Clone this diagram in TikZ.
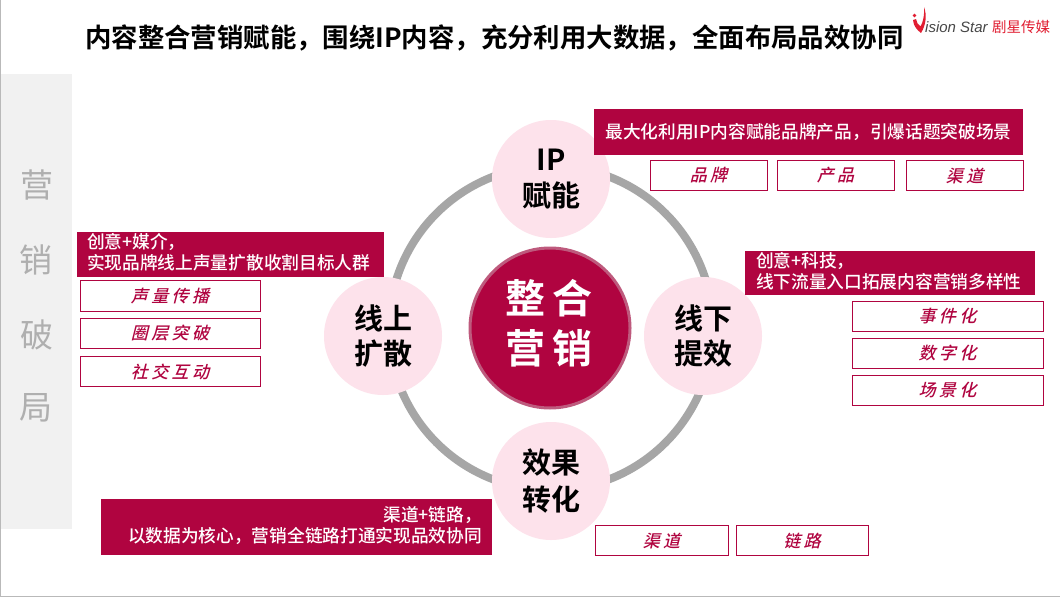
\documentclass[tikz,border=0pt]{standalone}
\usepackage{fontspec}
\setmainfont{Liberation Sans}
\newfontfamily\cjk{Noto Sans CJK SC Medium}
\newfontfamily\cjkb{Noto Sans CJK SC Bold}
\newfontfamily\cjki[FakeSlant=0.25,LetterSpace=20]{Noto Sans CJK SC Medium}
\newfontfamily\cjkl{Noto Sans CJK SC}
\definecolor{wine}{RGB}{176,4,64}
\definecolor{wineedge}{RGB}{190,90,125}
\definecolor{petal}{RGB}{253,226,235}
\definecolor{ringgray}{RGB}{166,166,166}
\definecolor{strip}{RGB}{241,241,241}
\definecolor{stripink}{RGB}{175,175,175}
\definecolor{logored}{RGB}{225,30,50}
\tikzset{
  x=1pt,y=-1pt,
  banner/.style={text=white,font=\cjk\fontsize{17.7}{21}\selectfont,inner sep=0pt,outer sep=0pt},
  tagbox/.style={draw=wine,line width=1pt,outer sep=0pt,fill=white,text=wine,font=\cjki\fontsize{17}{19}\selectfont,inner sep=0pt,anchor=north west,align=center},
  petalnode/.style={circle,fill=petal,minimum size=118pt,inner sep=0pt,align=center,font=\cjkb\fontsize{29}{35.5}\selectfont,text=black},
  hub/.style={circle,fill=wine,draw=wineedge,line width=3pt,minimum size=160pt,inner sep=0pt},
  hubtext/.style={align=center,inner sep=0pt,text=white,font=\cjkb\fontsize{40}{50}\selectfont},
  sidechar/.style={text=stripink,font=\cjkl\fontsize{33}{33}\selectfont,inner sep=0pt},
}
\begin{document}
\begin{tikzpicture}
\useasboundingbox (0,0) rectangle (1060,597);
\fill[white] (0,0) rectangle (1060,597);
\draw[gray!55,line width=1pt] (0.5,0) -- (0.5,596.5) -- (1060,596.5);
\fill[strip] (1,74) rectangle (72,529);
\node[sidechar] (s1) at (37,185) {营};
\node[sidechar] (s2) at (36,260) {销};
\node[sidechar] (s3) at (37,335) {破};
\node[sidechar] (s4) at (36,408) {局};
\node[anchor=west,inner sep=0pt,font=\cjkb\fontsize{26.4}{30}\selectfont] (title) at (85,38) {内容整合营销赋能，围绕IP内容，充分利用大数据，全面布局品效协同};
% logo
\fill[logored] (913,20) .. controls (913.5,26) and (917,30) .. (921,33) .. controls (926,25) and (927,15) .. (924,7) .. controls (924.5,16) and (923,22) .. (920.5,26.5) .. controls (918,25) and (916.5,22) .. (916,19) -- cycle;
\fill[logored] (914.5,15.5) circle (1.8);
\node[anchor=west,inner sep=0pt,text=black!72,font=\itshape\fontsize{15}{15}\selectfont] (logoT) at (925,27) {ision Star};
\node[anchor=west,inner sep=0pt,text=logored,font=\cjkl\fontsize{14.5}{15}\selectfont] (logoC) at (992,27) {剧星传媒};
% ring and circles
\node[circle,draw=ringgray,line width=8pt,minimum size=324pt,inner sep=0pt] (ring) at (551,328) {};
\node[hub] (hubn) at (550,328) {};
\node[hubtext] (hubt) at (549,323) {整\,合\\营\,销};
\node[petalnode] (top) at (551,179) {IP\\赋能};
\node[petalnode] (left) at (383,336) {线上\\扩散};
\node[petalnode] (right) at (703,336) {线下\\提效};
\node[petalnode] (bottom) at (551,481) {\raisebox{1pt}{效果}\\转化};
% top banner
\fill[wine] (594,109) rectangle (1023,155);
\node[banner] (b1) at (808.5,132) {最大化利用IP内容赋能品牌产品，引爆话题突破场景};
\node[tagbox,minimum width=117pt,minimum height=30pt] (t1) at (650,160.5) {品牌};
\node[tagbox,minimum width=117pt,minimum height=30pt] (t2) at (777,160.5) {产品};
\node[tagbox,minimum width=117pt,minimum height=30pt] (t3) at (906,160.5) {渠道};
% left banner
\fill[wine] (77,232) rectangle (384,277);
\node[banner,anchor=north west,align=left] (b2) at (87,233) {创意+媒介，\\实现品牌线上声量扩散收割目标人群};
\node[tagbox,minimum width=180pt,minimum height=31pt] (l1) at (80,280.5) {声量传播};
\node[tagbox,minimum width=180pt,minimum height=30pt] (l2) at (80,318.5) {圈层突破};
\node[tagbox,minimum width=180pt,minimum height=30pt] (l3) at (80,356.5) {社交互动};
% right banner
\fill[wine] (745,251) rectangle (1035,295);
\node[banner,anchor=north west,align=left] (b3) at (756,252) {创意+科技，\\线下流量入口拓展内容营销多样性};
\node[tagbox,minimum width=191pt,minimum height=30pt] (r1) at (852,301.5) {事件化};
\node[tagbox,minimum width=191pt,minimum height=30pt] (r2) at (852,338.5) {数字化};
\node[tagbox,minimum width=191pt,minimum height=30pt] (r3) at (852,375.5) {场景化};
% bottom banner
\fill[wine] (101,499) rectangle (492,555);
\node[banner,anchor=north east,align=right] (b4) at (482,506) {渠道+链路，\\以数据为核心，营销全链路打通实现品效协同};
\node[tagbox,minimum width=133pt,minimum height=30pt] (d1) at (595,525.5) {渠道};
\node[tagbox,minimum width=132pt,minimum height=30pt] (d2) at (736,525.5) {链路};
\end{tikzpicture}
\end{document}
